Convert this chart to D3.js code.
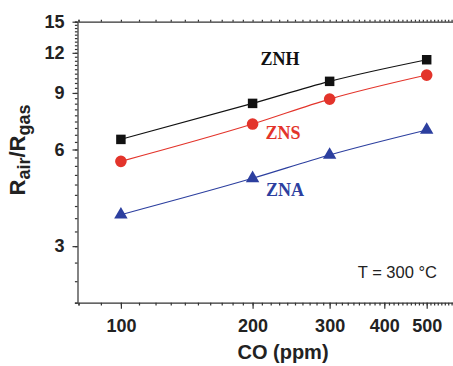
<!DOCTYPE html>
<html>
<head>
<meta charset="utf-8">
<script src="https://cdn.jsdelivr.net/npm/d3@7"></script>
<style>
  body { margin: 0; background: #fff; }
  svg { display: block; }
  .axis path, .axis line { stroke: #333; stroke-width: 1.2px; }
  .axis text { font-family: "Liberation Sans", Arial, sans-serif; font-weight: bold; font-size: 18px; fill: #222; }
</style>
</head>
<body>
<div id="chart"></div>
<script>
// CO concentration (ppm)
const co = [100, 200, 300, 500];
// Rair/Rgas response at T = 300 °C
const znh = [6.45, 8.35, 9.78, 11.42];
const zns = [5.51, 7.2, 8.61, 10.23];
const zna = [3.76, 4.88, 5.77, 6.9];

const xTicks = [100, 200, 300, 400, 500];
const yTicks = [3, 6, 9, 12, 15];

const seriesList = [
  { name: "ZNH", values: znh, color: "#111111", symbol: d3.symbolSquare, size: 90 },
  { name: "ZNS", values: zns, color: "#e3342b", symbol: d3.symbolCircle, size: 106 },
  { name: "ZNA", values: zna, color: "#2c3f9f", symbol: d3.symbolTriangle, size: 78 }
];

const width = 453, height = 366;

const svg = d3.select("#chart").append("svg")
  .attr("width", width)
  .attr("height", height);

// log scales on both axes
const x = d3.scaleLog().domain([80, 600]).range([78.5, 78.5 + 190 * Math.log(7.5)]);
const y = d3.scaleLog().domain([2, 15]).range([302.7, 21.7]);

// minor tick positions
const xMinor = d3.range(80, 601, 10);
const yMinor = d3.range(2, 15.01, 1 / 3);

// bottom axis
svg.append("g")
  .attr("class", "axis")
  .attr("transform", "translate(0,302.7)")
  .call(d3.axisBottom(x).tickValues(xMinor).tickSize(2.8).tickFormat(""));

svg.append("g")
  .attr("class", "axis")
  .attr("transform", "translate(0,302.7)")
  .call(d3.axisBottom(x).tickValues(xTicks).tickSize(6).tickPadding(11).tickFormat(d3.format("d")))
  .call(g => g.select(".domain").remove());

// top axis
svg.append("g")
  .attr("class", "axis")
  .attr("transform", "translate(0,21.7)")
  .call(d3.axisTop(x).tickValues(xMinor).tickSize(2).tickFormat(""));

// left axis
svg.append("g")
  .attr("class", "axis")
  .attr("transform", "translate(77.5,0)")
  .call(d3.axisLeft(y).tickValues(yMinor).tickSize(2.6).tickFormat(""));

svg.append("g")
  .attr("class", "axis")
  .attr("transform", "translate(77.5,0)")
  .call(d3.axisLeft(y).tickValues(yTicks).tickSize(5).tickPadding(8).tickFormat(d3.format("d")))
  .call(g => g.select(".domain").remove());

// lines
const line = d3.line()
  .x((d, i) => x(co[i]))
  .y(d => y(d))
  .curve(d3.curveMonotoneX);

seriesList.forEach(s => {
  svg.append("path")
    .datum(s.values)
    .attr("fill", "none")
    .attr("stroke", s.color)
    .attr("stroke-width", 1.1)
    .attr("d", line);

  svg.selectAll(null)
    .data(s.values)
    .enter().append("path")
    .attr("transform", (d, i) => "translate(" + x(co[i]) + "," + y(d) + ")")
    .attr("d", d3.symbol().type(s.symbol).size(s.size))
    .attr("fill", s.color);
});

// series labels
const labels = [
  { text: "ZNH", color: "#111111", x: 280, y: 64.5 },
  { text: "ZNS", color: "#e3342b", x: 283, y: 139 },
  { text: "ZNA", color: "#2c3f9f", x: 285, y: 196 }
];
svg.selectAll(".slabel")
  .data(labels)
  .enter().append("text")
  .attr("class", "slabel")
  .attr("x", d => d.x)
  .attr("y", d => d.y)
  .attr("text-anchor", "middle")
  .style("font-family", "'Liberation Serif', 'Times New Roman', serif")
  .style("font-weight", "bold")
  .style("font-size", "18px")
  .attr("fill", d => d.color)
  .text(d => d.text);

// temperature note
svg.append("text")
  .attr("x", 437)
  .attr("y", 278.3)
  .attr("text-anchor", "end")
  .style("font-family", "'Liberation Sans', Arial, sans-serif")
  .style("font-size", "16.5px")
  .attr("fill", "#222")
  .text("T = 300 °C");

// x axis title
svg.append("text")
  .attr("x", 283)
  .attr("y", 359)
  .attr("text-anchor", "middle")
  .style("font-family", "'Liberation Sans', Arial, sans-serif")
  .style("font-weight", "bold")
  .style("font-size", "20px")
  .attr("fill", "#222")
  .text("CO (ppm)");

// y axis title with subscripts
const yTitle = svg.append("text")
  .attr("transform", "translate(25,150) rotate(-90)")
  .attr("text-anchor", "middle")
  .style("font-family", "'Liberation Sans', Arial, sans-serif")
  .style("font-weight", "bold")
  .style("font-size", "22px")
  .attr("fill", "#222");
yTitle.append("tspan").text("R");
yTitle.append("tspan").attr("dy", 5).style("font-size", "18px").text("air");
yTitle.append("tspan").attr("dy", -5).text("/R");
yTitle.append("tspan").attr("dy", 5).style("font-size", "18px").text("gas");
</script>
</body>
</html>
